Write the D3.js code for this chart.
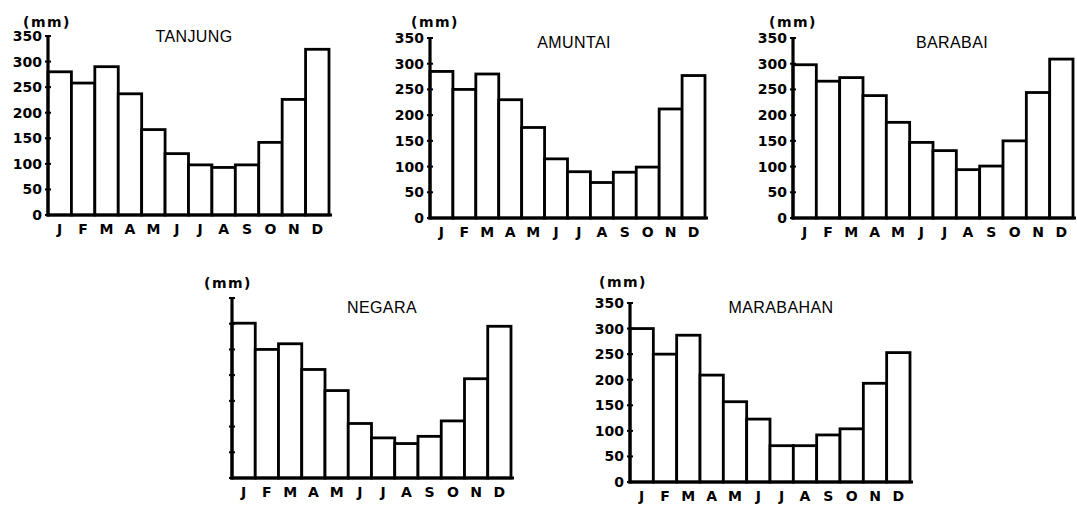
<!DOCTYPE html>
<html>
<head>
<meta charset="utf-8">
<script src="https://cdn.jsdelivr.net/npm/d3@7/dist/d3.min.js"></script>
<style>
  html, body { margin: 0; padding: 0; background: #fff; }
  svg { display: block; }
  .tick-label text { font-family: "DejaVu Sans", sans-serif; font-weight: bold; font-size: 14px; fill: #000; }
  .month-label text { font-family: "DejaVu Sans", sans-serif; font-weight: bold; font-size: 14px; fill: #000; }
  .title { font-family: "Liberation Sans", Arial, sans-serif; font-size: 16px; letter-spacing: 0.4px; fill: #000; }
  .unit { font-family: "DejaVu Sans", sans-serif; font-weight: bold; font-size: 14px; letter-spacing: 1.5px; fill: #000; }
</style>
</head>
<body>
<svg id="chart" width="1077" height="508"></svg>
<script>
// ---- Data ----
const months = ["J", "F", "M", "A", "M", "J", "J", "A", "S", "O", "N", "D"];
const yTicks = [0, 50, 100, 150, 200, 250, 300, 350];
const unitLabel = "(mm)";
const stations = ["TANJUNG", "AMUNTAI", "BARABAI", "NEGARA", "MARABAHAN"];
const tanjung   = [280, 258, 290, 237, 167, 120, 98, 93, 98, 142, 226, 324];
const amuntai   = [285, 250, 280, 230, 176, 115, 90, 69, 89, 99, 212, 277];
const barabai   = [298, 266, 273, 238, 186, 147, 131, 94, 101, 150, 244, 309];
const negara    = [301, 250, 261, 211, 170, 106, 78, 67, 81, 111, 193, 295];
const marabahan = [300, 250, 287, 209, 157, 123, 71, 71, 92, 104, 193, 253];
const seriesValues = [tanjung, amuntai, barabai, negara, marabahan];
const showTickLabels = [true, true, true, false, true];

// ---- Layout (positions only) ----
const layout = [
  { x0: 48,  x1: 329,  base: 215, top: 36,  titleX: 194, titleY: 42,  unitX: 23,  unitY: 27 },
  { x0: 430, x1: 705,  base: 218, top: 38,  titleX: 574, titleY: 48,  unitX: 411, unitY: 27 },
  { x0: 793, x1: 1073, base: 218, top: 38,  titleX: 952, titleY: 48,  unitX: 769, unitY: 27 },
  { x0: 232, x1: 511,  base: 478, top: 298, titleX: 382, titleY: 313, unitX: 204, unitY: 288 },
  { x0: 630, x1: 910,  base: 482, top: 303, titleX: 781, titleY: 313, unitX: 599, unitY: 287 }
];

const svg = d3.select("#chart");

stations.forEach((name, i) => {
  const L = layout[i];
  const vals = seriesValues[i];
  const g = svg.append("g");
  const idx = months.map((m, k) => k);

  const x = d3.scaleBand().domain(idx).range([L.x0, L.x1]).paddingInner(0).paddingOuter(0);
  const y = d3.scaleLinear().domain([0, 350]).range([L.base, L.top]);

  // bars
  g.selectAll("rect.bar").data(vals).enter().append("rect")
    .attr("class", "bar")
    .attr("x", (d, k) => x(k))
    .attr("y", d => y(d))
    .attr("width", x.bandwidth())
    .attr("height", d => y(0) - y(d))
    .attr("fill", "#fff")
    .attr("stroke", "#000")
    .attr("stroke-width", 2.8);

  // y axis labels
  const yAxis = d3.axisLeft(y).tickValues(yTicks).tickSize(0).tickPadding(6);
  if (!showTickLabels[i]) yAxis.tickFormat(() => "");
  const ya = g.append("g").attr("class", "tick-label")
    .attr("transform", `translate(${L.x0},0)`).call(yAxis);
  ya.select(".domain").remove();

  // y axis line + tick marks
  g.append("line")
    .attr("x1", L.x0).attr("x2", L.x0)
    .attr("y1", y(0) + 1.5).attr("y2", y(350))
    .attr("stroke", "#000").attr("stroke-width", 3.2);
  g.selectAll("line.ytick").data(yTicks).enter().append("line")
    .attr("class", "ytick")
    .attr("x1", L.x0 - 3).attr("x2", L.x0 + 3)
    .attr("y1", d => y(d)).attr("y2", d => y(d))
    .attr("stroke", "#000").attr("stroke-width", 2);

  // baseline
  g.append("line")
    .attr("x1", L.x0 - 1.5).attr("x2", L.x1 + 3)
    .attr("y1", y(0)).attr("y2", y(0))
    .attr("stroke", "#000").attr("stroke-width", 3.2);

  // month labels
  const xAxis = d3.axisBottom(x).tickSize(0).tickPadding(9).tickFormat(k => months[k]);
  const xa = g.append("g").attr("class", "month-label")
    .attr("transform", `translate(0,${L.base})`).call(xAxis);
  xa.select(".domain").remove();

  // title
  g.append("text").attr("class", "title")
    .attr("x", L.titleX).attr("y", L.titleY)
    .attr("text-anchor", "middle").text(name);

  // unit
  g.append("text").attr("class", "unit")
    .attr("x", L.unitX).attr("y", L.unitY).text(unitLabel);
});
</script>
</body>
</html>
